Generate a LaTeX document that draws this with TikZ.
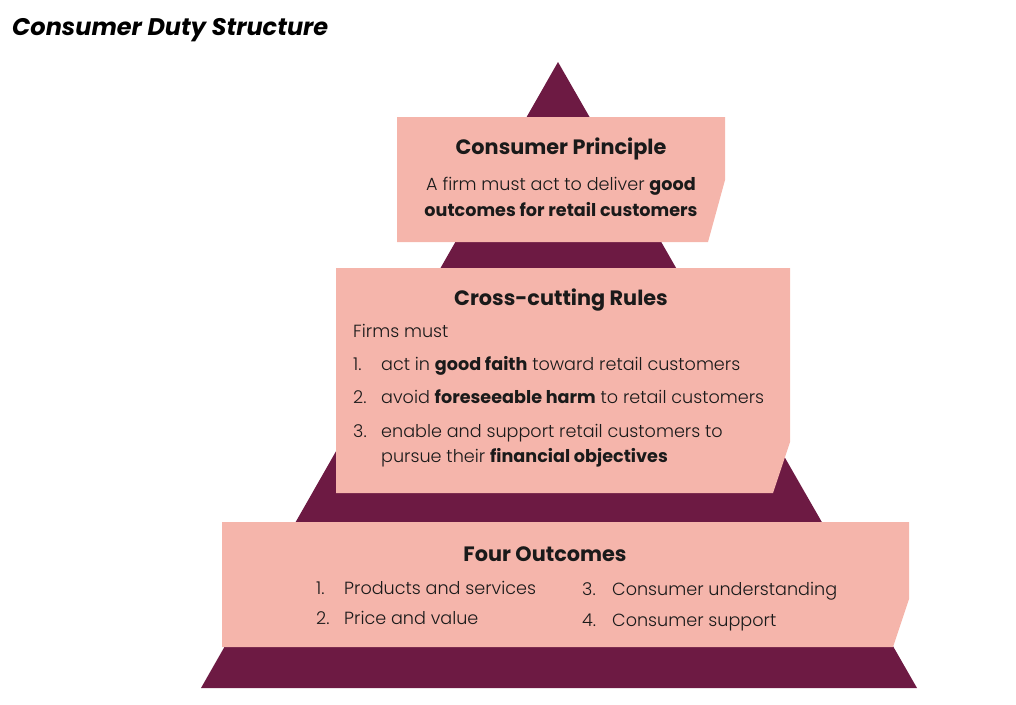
\documentclass[tikz,border=0pt]{standalone}
\usepackage{fontspec}
\setmainfont{Poppins}[UprightFont={* Light}, BoldFont={* Bold}, ItalicFont={* Italic}, BoldItalicFont={* Bold Italic}]
\definecolor{maroon}{HTML}{6D1A43}
\definecolor{pinkbox}{HTML}{F5B5AB}
\definecolor{ink}{HTML}{1A1A1A}
\begin{document}
\begin{tikzpicture}[x=1pt,y=-1pt,
  inner sep=0pt,
  head/.style={font=\fontsize{20.8}{24}\selectfont\bfseries, text=ink, anchor=base},
  body/.style={font=\fontsize{17.6}{20}\selectfont, text=ink, anchor=base west},
  bodyc/.style={body, anchor=base},
]
\useasboundingbox (0,0) rectangle (1016,704);
% pyramid
\fill[maroon] (558,62) -- (917,688) -- (201,688) -- cycle;
% boxes
\fill[pinkbox] (397,117) -- (725,117) -- (725,180) -- (708,242) -- (397,242) -- cycle;
\fill[pinkbox] (336,268) -- (790,268) -- (790,442) -- (773,493) -- (336,493) -- cycle;
\fill[pinkbox] (222,522) -- (909,522) -- (909,599) -- (893,647) -- (222,647) -- cycle;
% title
\node[anchor=base west, text=black, font=\fontsize{24}{28}\selectfont\bfseries\itshape] (title) at (12,35) {Consumer Duty Structure};
% top box
\node[head] (cp) at (561,154) {Consumer Principle};
\node[bodyc] (cpa) at (561,190) {A firm must act to deliver \textbf{good}};
\node[bodyc] (cpb) at (561,216) {\textbf{outcomes for retail customers}};
% middle box
\node[head] (cr) at (561,305) {Cross-cutting Rules};
\node[body] (fm) at (353,337) {Firms must};
\node[body] (n1) at (353,370) {1.};
\node[body] (t1) at (381,370) {act in \textbf{good faith} toward retail customers};
\node[body] (n2) at (353,403) {2.};
\node[body] (t2) at (381,403) {avoid \textbf{foreseeable harm} to retail customers};
\node[body] (n3) at (353,437) {3.};
\node[body] (t3) at (381,437) {enable and support retail customers to};
\node[body] (t3b) at (381,462) {pursue their \textbf{financial objectives}};
% bottom box
\node[head] (fo) at (545,561) {Four Outcomes};
\node[body] (o1) at (316,594) {1.};
\node[body] (p1) at (344,594) {Products and services};
\node[body] (o2) at (316,624) {2.};
\node[body] (p2) at (344,624) {Price and value};
\node[body] (o3) at (582,595) {3.};
\node[body] (p3) at (612,595) {Consumer understanding};
\node[body] (o4) at (582,626) {4.};
\node[body] (p4) at (612,626) {Consumer support};
\end{tikzpicture}
\end{document}
